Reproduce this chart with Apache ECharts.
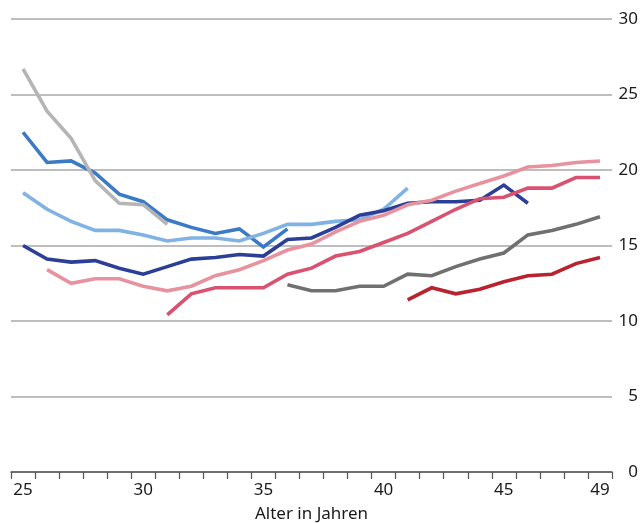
<!DOCTYPE html>
<html>
<head>
<meta charset="utf-8">
<script src="https://cdn.jsdelivr.net/npm/echarts@6/dist/echarts.min.js"></script>
<style>
  html, body { margin: 0; padding: 0; background: #fff; }
  #chart { width: 640px; height: 523px; }
</style>
</head>
<body>
<div id="chart"></div>
<script>
// Ages on the x axis (25 … 49)
const ages = [];
for (let a = 25; a <= 49; a++) ages.push(String(a));

// One row per curve; null where the curve has no value for that age
const seriesGrey = [26.7, 23.9, 22.1, 19.3, 17.8, 17.7, 16.4,
  null, null, null, null, null, null, null, null, null, null, null, null, null, null, null, null, null, null];
const seriesBlue = [22.5, 20.5, 20.6, 19.8, 18.4, 17.9, 16.7, 16.2, 15.8, 16.1, 14.9, 16.1,
  null, null, null, null, null, null, null, null, null, null, null, null, null];
const seriesLightBlue = [18.5, 17.4, 16.6, 16.0, 16.0, 15.7, 15.3, 15.5, 15.5, 15.3, 15.8, 16.4, 16.4, 16.6, 16.7, 17.4, 18.8,
  null, null, null, null, null, null, null, null];
const seriesNavy = [15.0, 14.1, 13.9, 14.0, 13.5, 13.1, 13.6, 14.1, 14.2, 14.4, 14.3, 15.4, 15.5, 16.2, 17.0, 17.3, 17.8, 17.9, 17.9, 18.0, 19.0, 17.8,
  null, null, null];
const seriesRose = [null, 13.4, 12.5, 12.8, 12.8, 12.3, 12.0, 12.3, 13.0, 13.4, 14.0, 14.7, 15.1, 15.9, 16.6, 17.0, 17.7, 18.0, 18.6, 19.1, 19.6, 20.2, 20.3, 20.5, 20.6];
const seriesPink = [null, null, null, null, null, null, 10.4, 11.8, 12.2, 12.2, 12.2, 13.1, 13.5, 14.3, 14.6, 15.2, 15.8, 16.6, 17.4, 18.1, 18.2, 18.8, 18.8, 19.5, 19.5];
const seriesDarkGrey = [null, null, null, null, null, null, null, null, null, null, null, 12.4, 12.0, 12.0, 12.3, 12.3, 13.1, 13.0, 13.6, 14.1, 14.5, 15.7, 16.0, 16.4, 16.9];
const seriesRed = [null, null, null, null, null, null, null, null, null, null, null, null, null, null, null, null, 11.4, 12.2, 11.8, 12.1, 12.6, 13.0, 13.1, 13.8, 14.2];

// Tick labels shown under the x axis
const xLabels = ['25', '30', '35', '40', '45', '49'];

const FONT = 'Noto Sans';

function line(data, color) {
  return {
    type: 'line',
    data: data,
    symbol: 'none',
    connectNulls: false,
    lineStyle: { color: color, width: 3.6, cap: 'butt', join: 'miter' },
    itemStyle: { color: color },
    emphasis: { disabled: true },
    animation: false
  };
}

const chart = echarts.init(document.getElementById('chart'), null, { renderer: 'canvas' });
chart.setOption({
  animation: false,
  backgroundColor: '#ffffff',
  grid: { left: 11, right: 28, top: 19, bottom: 51, containLabel: false, outerBoundsMode: 'none' },
  xAxis: {
    type: 'category',
    data: ages,
    boundaryGap: true,
    name: 'Alter in Jahren',
    nameLocation: 'middle',
    nameGap: 34,
    nameTextStyle: { fontFamily: FONT, fontSize: 17, color: '#1a1a1a' },
    axisLine: { show: true, lineStyle: { color: '#555555', width: 1.5 } },
    axisTick: { show: true, interval: 0, length: 7, lineStyle: { color: '#555555', width: 1.2 } },
    axisLabel: {
      interval: function (idx, val) { return xLabels.indexOf(val) >= 0; },
      margin: 10,
      fontFamily: FONT,
      fontSize: 17,
      color: '#1a1a1a'
    },
    splitLine: { show: false }
  },
  yAxis: {
    type: 'value',
    position: 'right',
    min: 0,
    max: 30,
    interval: 5,
    axisLine: { show: false },
    axisTick: { show: false },
    axisLabel: {
      align: 'right',
      margin: 26,
      fontFamily: FONT,
      fontSize: 17,
      color: '#1a1a1a'
    },
    splitLine: { show: true, lineStyle: { color: '#a8a8a8', width: 1.5 } }
  },
  series: [
    line(seriesBlue, '#3b7bc5'),
    line(seriesGrey, '#b5b5b5'),
    line(seriesLightBlue, '#80b3e3'),
    line(seriesNavy, '#2b3f97'),
    line(seriesRose, '#e8929f'),
    line(seriesPink, '#d95370'),
    line(seriesDarkGrey, '#707070'),
    line(seriesRed, '#b8232f')
  ]
});
</script>
</body>
</html>
